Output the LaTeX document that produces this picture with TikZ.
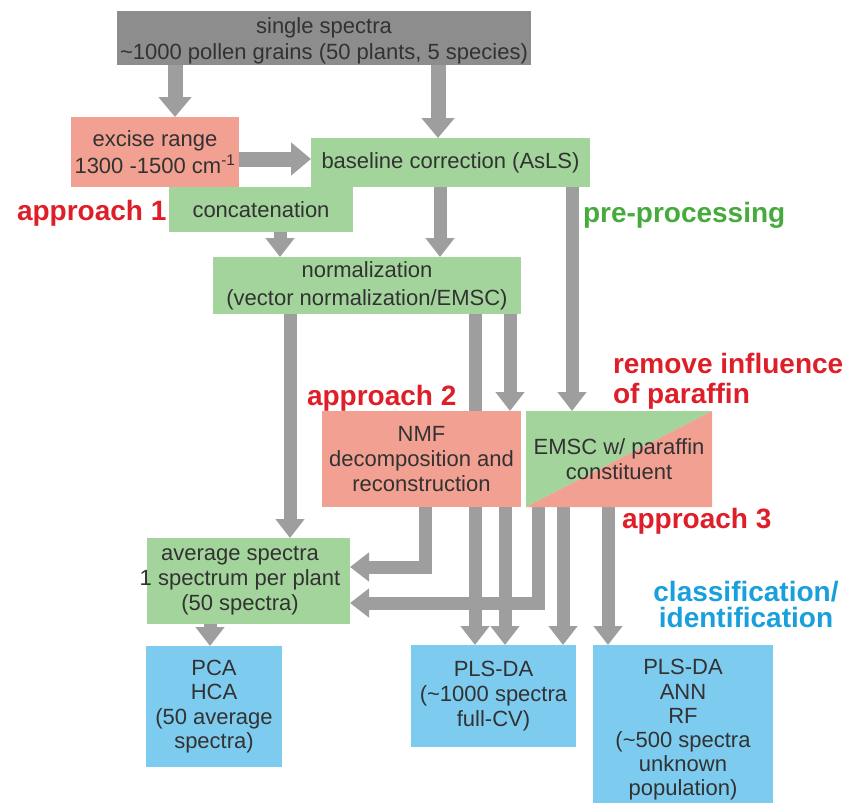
\documentclass[tikz,border=0pt]{standalone}
\usepackage{fontspec}
\setmainfont{Liberation Sans}
\usetikzlibrary{arrows.meta,calc}
\definecolor{boxgray}{RGB}{141,141,141}
\definecolor{arrowgray}{RGB}{158,158,158}
\definecolor{boxgreen}{RGB}{163,212,155}
\definecolor{boxsalmon}{RGB}{242,160,145}
\definecolor{boxsky}{RGB}{125,204,240}
\definecolor{boxtext}{RGB}{50,50,50}
\definecolor{labred}{RGB}{222,30,40}
\definecolor{labgreen}{RGB}{70,170,60}
\definecolor{labblue}{RGB}{25,160,220}
\pgfdeclarelayer{background}
\pgfsetlayers{background,main}
\begin{document}
\begin{tikzpicture}[x=1pt,y=-1pt,
  box/.style={inner sep=0pt, outer sep=0pt, align=center, text=boxtext, font=\fontsize{22}{25}\selectfont},
  arr/.style={draw=arrowgray, line width=13pt, -{Triangle[width=28pt,length=19pt]}},
  arrbig/.style={draw=arrowgray, line width=15pt, -{Triangle[width=32pt,length=20pt]}},
  lbl/.style={inner sep=0pt, outer sep=0pt, font=\fontsize{28}{30}\selectfont\bfseries}]
\useasboundingbox (0,0) rectangle (860,803);

% boxes
\node[box, fill=boxgray, minimum width=414pt, minimum height=54pt] (top) at (324,38) {};
\node[box, font=\fontsize{22}{26}\selectfont] (toptext) at (324,41)
  {single spectra\\\textasciitilde1000 pollen grains (50 plants, 5 species)};
\node[box, fill=boxsalmon, minimum width=168pt, minimum height=70pt, font=\fontsize{22}{27}\selectfont] (excise) at (155,152)
  {excise range\\1300 -1500 cm\textsuperscript{-1}};
\node[box, fill=boxgreen, minimum width=279pt, minimum height=49pt] (baseline) at (450.5,162.5)
  {baseline correction (AsLS)};
\node[box, fill=boxgreen, minimum width=184pt, minimum height=45pt] (concat) at (261,209.5)
  {concatenation};
\node[box, fill=boxgreen, minimum width=308pt, minimum height=57pt, font=\fontsize{22}{28}\selectfont] (norm) at (367,285.5)
  {normalization\\(vector normalization/EMSC)};
\node[box, fill=boxsalmon, minimum width=199pt, minimum height=96pt] (nmf) at (421.5,459)
  {NMF\\decomposition and\\reconstruction};
\node[box, minimum width=186pt, minimum height=96pt,
  path picture={
    \fill[boxgreen] (path picture bounding box.south west) -- (path picture bounding box.north west) -- (path picture bounding box.north east) -- cycle;
    \fill[boxsalmon] (path picture bounding box.south west) -- (path picture bounding box.north east) -- (path picture bounding box.south east) -- cycle;
  }] (emsc) at (619,459)
  {EMSC w/ paraffin\\constituent};
\node[box, fill=boxgreen, minimum width=203pt, minimum height=86pt] (avg) at (248.5,581) {};
\node[box] (avgtext) at (240,581) {average spectra\\1 spectrum per plant\\(50 spectra)};
\node[box, fill=boxsky, minimum width=136pt, minimum height=121pt, font=\fontsize{22}{24.5}\selectfont] (pca) at (214,706.5)
  {PCA\\HCA\\(50 average\\spectra)};
\node[box, fill=boxsky, minimum width=165pt, minimum height=102pt] (plsm) at (493.5,696)
  {PLS-DA\\(\textasciitilde1000 spectra\\full-CV)};
\node[box, fill=boxsky, minimum width=180pt, minimum height=158pt] (plsr) at (683,724) {};
\node[box, font=\fontsize{22}{24.2}\selectfont] (plsrtext) at (683,730)
  {PLS-DA\\ANN\\RF\\(\textasciitilde500 spectra\\unknown\\population)};

% labels
\node[lbl, text=labred, anchor=base west] (ap1) at (17,220) {approach 1};
\node[lbl, text=labgreen, anchor=base west] (pre) at (583,222) {pre-processing};
\node[lbl, text=labred, anchor=base west] (ap2) at (307,405) {approach 2};
\node[lbl, text=labred, anchor=base west] (ap3) at (622,528) {approach 3};
\node[lbl, text=labred, align=left, anchor=west, font=\fontsize{28}{30}\selectfont\bfseries] (rem) at (613,381)
  {remove influence\\of paraffin};
\node[lbl, text=labblue, align=center, font=\fontsize{28}{26}\selectfont\bfseries] (cls) at (746,604)
  {classification/\\identification};

% connectors
\begin{pgfonlayer}{background}
\draw[arrbig] ([xshift=-149pt]top.south) -- ([xshift=20pt]excise.north);
\draw[arrbig] ([xshift=114pt]top.south) -- ([xshift=-12.5pt]baseline.north);
\draw[arrbig] ([yshift=-7pt]excise.east) -- ([yshift=3.5pt]baseline.west);
\draw[arr] ([xshift=19pt]concat.south) -- ([xshift=-87pt]norm.north);
\draw[arr] ([xshift=-10.5pt]baseline.south) -- ([xshift=73pt]norm.north);
\draw[arr] ([xshift=121.5pt]baseline.south) -- ([xshift=-47pt]emsc.north);
\draw[arr] ([xshift=-77pt]norm.south) -- ([xshift=41.5pt]avg.north);
\draw[arr] ([xshift=108pt]norm.south) -- ([xshift=-18.5pt]plsm.north);
\draw[arr] ([xshift=143pt]norm.south) -- ([xshift=88.5pt]nmf.north);
\draw[arr] ([xshift=3.5pt]nmf.south) |- ([yshift=14pt]avg.east);
\draw[arr] ([xshift=83.5pt]nmf.south) -- ([xshift=11.5pt]plsm.north);
\draw[arr] ([xshift=-81pt]emsc.south) |- ([yshift=-22pt]avg.east);
\draw[arr] ([xshift=-56pt]emsc.south) -- ([xshift=69.5pt]plsm.north);
\draw[arr] ([xshift=-11pt]emsc.south) -- ([xshift=-75pt]plsr.north);
\draw[arr] ([xshift=-38.5pt]avg.south) -- ([xshift=-4pt]pca.north);
\end{pgfonlayer}
\end{tikzpicture}
\end{document}
